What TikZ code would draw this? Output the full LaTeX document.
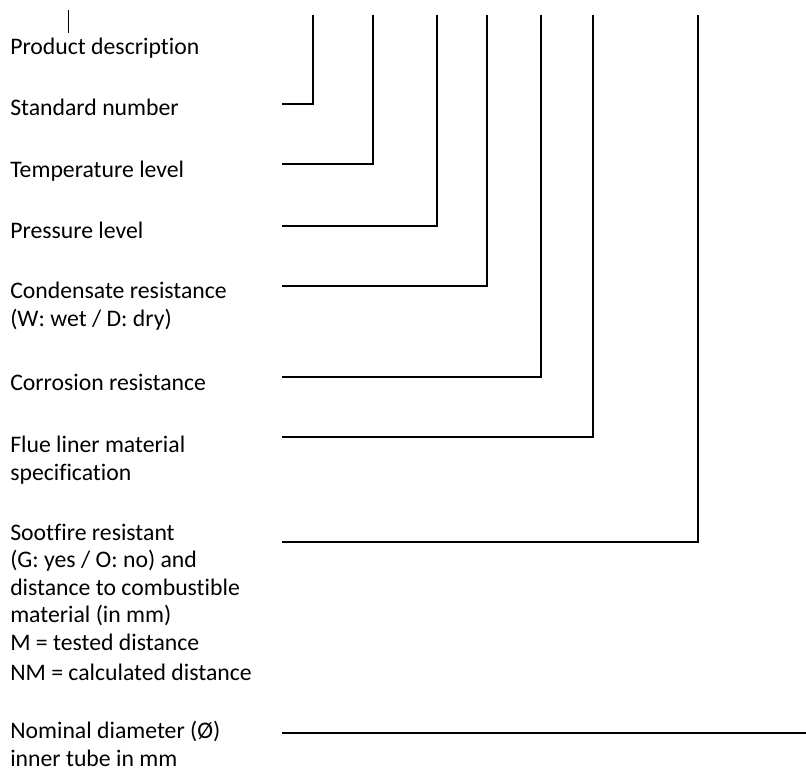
\documentclass[tikz,border=0pt]{standalone}
\usepackage{fontspec}
\setmainfont[Ligatures={NoCommon}]{Carlito}

\begin{document}
\begin{tikzpicture}[
    x=0.75pt, y=-0.75pt,
    lbl/.style={
        anchor=base west, inner sep=0pt, align=left,
        font=\fontsize{17.8}{20.6}\selectfont
    },
    lead/.style={draw=black, line width=1.5pt},
    tick/.style={draw=black, line width=0.75pt}
]
\useasboundingbox (0,0) rectangle (806,776);

% Labels (placed on the baseline of their last line)
\node[lbl] (desc) at (10,54) {Product description};
\node[lbl] (std) at (10,115) {Standard number};
\node[lbl] (temp) at (10,177) {Temperature level};
\node[lbl] (press) at (10,238) {Pressure level};
\node[lbl] (cond) at (10,326) {Condensate resistance\\(W: wet / D: dry)};
\node[lbl] (corr) at (10,390) {Corrosion resistance};
\node[lbl] (flue) at (10,480) {Flue liner material\\specification};
\node[lbl] (soot) at (10,680) {Sootfire resistant\\(G: yes / O: no) and\\distance to combustible\\material (in mm)\\M = tested distance\\[1.9pt]NM = calculated distance};
\node[lbl] (nom) at (10,766) {Nominal diameter (Ø)\\inner tube in mm};

% Leader start points
\coordinate (std-l) at (282,104);
\coordinate (temp-l) at (282,164);
\coordinate (press-l) at (282,226);
\coordinate (cond-l) at (282,286);
\coordinate (corr-l) at (282,377);
\coordinate (flue-l) at (282,437);
\coordinate (soot-l) at (282,542);
\coordinate (nom-l) at (282,733);

% Leader top points
\coordinate (desc-t) at (68,10);
\coordinate (std-t) at (313,15);
\coordinate (temp-t) at (373,15);
\coordinate (press-t) at (437,15);
\coordinate (cond-t) at (487,15);
\coordinate (corr-t) at (541,15);
\coordinate (flue-t) at (593,15);
\coordinate (soot-t) at (698,15);
\coordinate (nom-r) at (806,733);

% Short mark above the first label
\draw[tick] (desc-t) -- (68,33);

% Leaders
\draw[lead] (std-l) -| (std-t);
\draw[lead] (temp-l) -| (temp-t);
\draw[lead] (press-l) -| (press-t);
\draw[lead] (cond-l) -| (cond-t);
\draw[lead] (corr-l) -| (corr-t);
\draw[lead] (flue-l) -| (flue-t);
\draw[lead] (soot-l) -| (soot-t);
\draw[lead] (nom-l) -- (nom-r);

\end{tikzpicture}
\end{document}
